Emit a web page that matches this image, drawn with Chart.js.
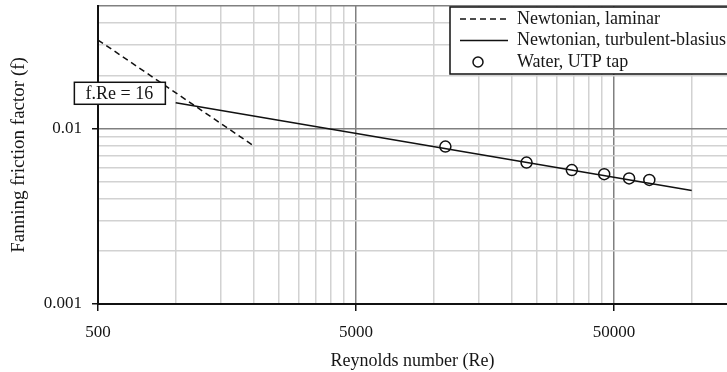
<!DOCTYPE html>
<html>
<head>
<meta charset="utf-8">
<script src="https://cdn.jsdelivr.net/npm/chart.js@4/dist/chart.umd.min.js"></script>
<style>
  body { margin: 0; background: #fff; }
  canvas { display: block; }
</style>
</head>
<body>
<canvas id="chart" width="727" height="372"></canvas>
<script>
// labelled ticks
const reTickLabels = [500, 5000, 50000];
const fTickLabels = [0.001, 0.01];

// Newtonian, laminar (f.Re = 16)
const laminarRe = [500, 2000];
const laminarF = [0.032, 0.008];

// Newtonian, turbulent-blasius
const blasiusRe = [1000, 100000];
const blasiusF = [0.01405, 0.00444];

// Water, UTP tap
const waterRe = [11100, 22900, 34300, 45800, 57200, 68500];
const waterF = [0.0079, 0.0064, 0.0058, 0.0055, 0.0052, 0.0051];

const FONT = '"Liberation Serif", "Times New Roman", serif';
const INK = '#111';
const TEXT = '#161616';
const LIGHT = '#d2d2d2';
const DARK = '#808080';

// grid lines: 500..4500 step 500, 5000..45000 step 5000, 50000, 100000
const xGrid = [];
[500, 5000, 50000].forEach(base => {
  for (let k = 1; k <= 9; k++) xGrid.push(base * k);
});
const xGridUsed = xGrid.filter(v => v <= 100000);

const yGrid = [];
[0.001, 0.01].forEach(base => {
  for (let k = 1; k <= 9; k++) yGrid.push(Number((base * k).toPrecision(3)));
});
const yGridUsed = yGrid.filter(v => v <= 0.05);

const toPoints = (xs, ys) => xs.map((x, i) => ({ x, y: ys[i] }));

// legend with a border box, drawn in the top right corner
const boxLegend = {
  id: 'boxLegend',
  afterDraw(chart) {
    const { ctx, chartArea } = chart;
    const left = chartArea.right - 277;
    const top = chartArea.top + 1;
    ctx.save();
    ctx.fillStyle = '#fff';
    ctx.fillRect(left, top, 290, 67);
    ctx.strokeStyle = INK;
    ctx.lineWidth = 1.5;
    ctx.strokeRect(left, top, 290, 67);
    ctx.font = '18px ' + FONT;
    ctx.textBaseline = 'middle';
    chart.data.datasets.forEach((ds, i) => {
      const y = top + 12 + i * 21.5;
      ctx.strokeStyle = INK;
      ctx.lineWidth = 1.5;
      if (ds.showLine) {
        ctx.setLineDash(ds.borderDash || []);
        ctx.beginPath();
        ctx.moveTo(left + 10, y);
        ctx.lineTo(left + 58, y);
        ctx.stroke();
        ctx.setLineDash([]);
      } else {
        ctx.beginPath();
        ctx.arc(left + 28, y, 5, 0, Math.PI * 2);
        ctx.fillStyle = '#fff';
        ctx.fill();
        ctx.stroke();
      }
      ctx.fillStyle = TEXT;
      ctx.fillText(ds.label, left + 67, y);
    });
    ctx.restore();
  }
};

// "f.Re = 16" label box
const laminarNote = {
  id: 'laminarNote',
  afterDraw(chart) {
    const { ctx, scales } = chart;
    const cx = scales.x.getPixelForValue(605);
    const cy = scales.y.getPixelForValue(0.0159);
    ctx.save();
    ctx.fillStyle = '#fff';
    ctx.fillRect(cx - 45, cy - 11, 91, 22);
    ctx.strokeStyle = INK;
    ctx.lineWidth = 1.5;
    ctx.strokeRect(cx - 45, cy - 11, 91, 22);
    ctx.fillStyle = TEXT;
    ctx.font = '18px ' + FONT;
    ctx.textAlign = 'center';
    ctx.textBaseline = 'middle';
    ctx.fillText('f.Re = 16', cx, cy + 1);
    ctx.restore();
  }
};

new Chart(document.getElementById('chart'), {
  type: 'scatter',
  data: {
    datasets: [
      {
        label: 'Newtonian, laminar',
        data: toPoints(laminarRe, laminarF),
        showLine: true,
        borderColor: INK,
        borderWidth: 1.5,
        borderDash: [6, 4],
        pointRadius: 0
      },
      {
        label: 'Newtonian, turbulent-blasius',
        data: toPoints(blasiusRe, blasiusF),
        showLine: true,
        borderColor: INK,
        borderWidth: 1.5,
        pointRadius: 0
      },
      {
        label: 'Water, UTP tap',
        data: toPoints(waterRe, waterF),
        showLine: false,
        pointRadius: 5.5,
        pointBackgroundColor: '#fff',
        pointBorderColor: INK,
        pointBorderWidth: 1.5
      }
    ]
  },
  options: {
    responsive: false,
    animation: false,
    layout: { autoPadding: false, padding: { top: 6, right: 0, left: 0, bottom: 0 } },
    plugins: {
      legend: { display: false },
      tooltip: { enabled: false }
    },
    scales: {
      x: {
        type: 'logarithmic',
        min: 500,
        max: 137000,
        afterBuildTicks: scale => { scale.ticks = xGridUsed.map(v => ({ value: v })); },
        afterFit: scale => {
          scale.height = 68;
          scale.paddingLeft = 0;
          scale.paddingRight = 0;
        },
        border: { color: INK, width: 2 },
        grid: {
          color: c => (c.tick && (c.tick.value === 5000 || c.tick.value === 50000)) ? DARK : LIGHT,
          lineWidth: 1.5,
          tickLength: 7,
          tickColor: c => (c.tick && reTickLabels.includes(c.tick.value)) ? INK : 'transparent',
          tickWidth: 1.5
        },
        ticks: {
          autoSkip: false,
          maxRotation: 0,
          padding: 11,
          color: TEXT,
          font: { family: FONT, size: 17 },
          callback: v => reTickLabels.includes(v) ? String(v) : ''
        },
        title: {
          display: true,
          text: 'Reynolds number (Re)',
          color: TEXT,
          font: { family: FONT, size: 18 },
          padding: { top: 0, bottom: 0 }
        }
      },
      y: {
        type: 'logarithmic',
        min: 0.001,
        max: 0.05,
        afterBuildTicks: scale => { scale.ticks = yGridUsed.map(v => ({ value: v })); },
        afterFit: scale => {
          scale.width = 98;
          scale.paddingTop = 0;
          scale.paddingBottom = 0;
        },
        border: { color: INK, width: 2 },
        grid: {
          color: c => (c.tick && (c.tick.value === 0.01 || c.tick.value === 0.05)) ? DARK : LIGHT,
          lineWidth: 1.5,
          tickLength: 6,
          tickColor: c => (c.tick && fTickLabels.includes(c.tick.value)) ? INK : 'transparent',
          tickWidth: 1.5
        },
        ticks: {
          autoSkip: false,
          padding: 10,
          color: TEXT,
          font: { family: FONT, size: 17 },
          callback: v => fTickLabels.includes(v) ? String(v) : ''
        },
        title: {
          display: true,
          text: 'Fanning friction factor (f)',
          color: TEXT,
          font: { family: FONT, size: 19 },
          padding: { top: 8, bottom: 0 }
        }
      }
    }
  },
  plugins: [boxLegend, laminarNote]
});
</script>
</body>
</html>
